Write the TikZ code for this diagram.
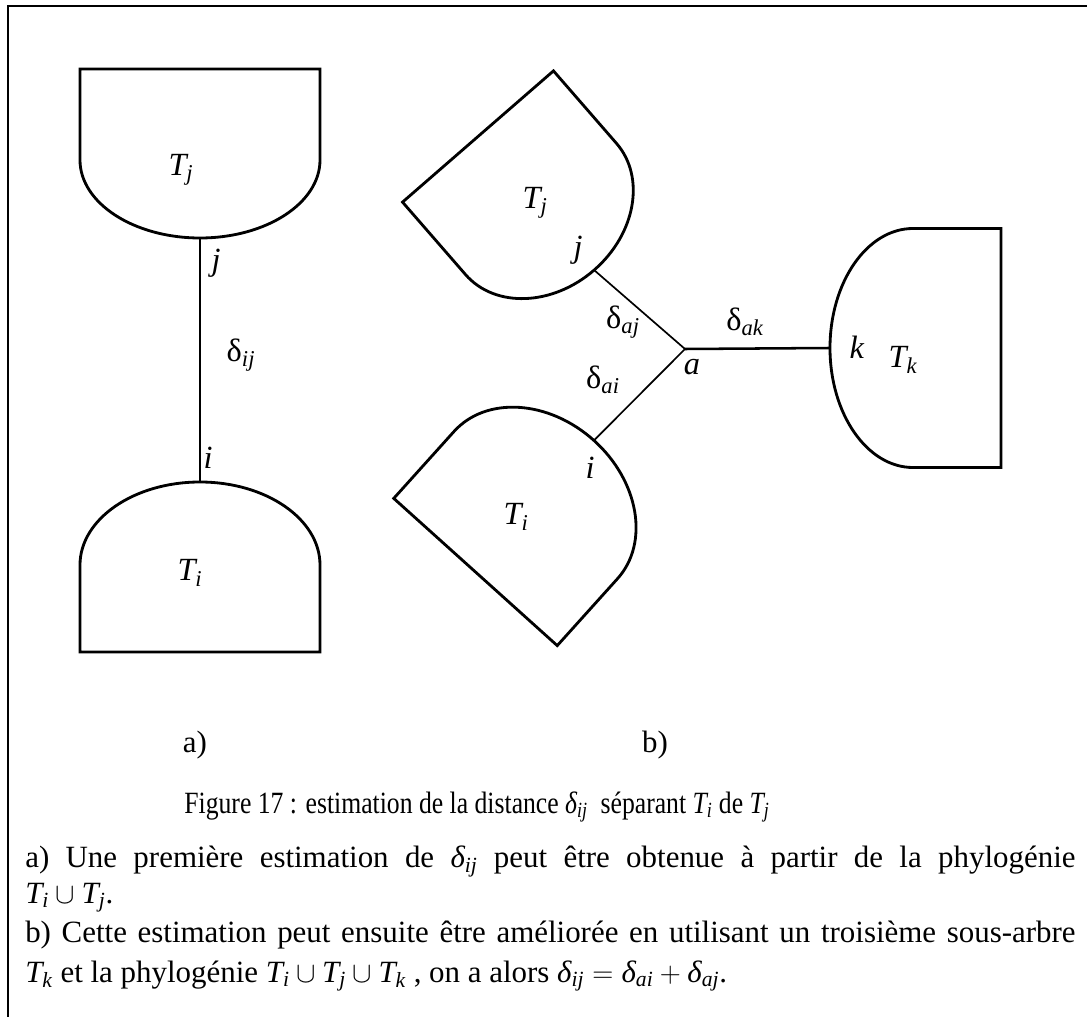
\documentclass[tikz,border=0pt]{standalone}
\usepackage{amsmath}
\usepackage{fontspec}
\setmainfont{Liberation Serif}
\newfontfamily\serre[FakeStretch=0.83]{Liberation Serif}
\usetikzlibrary{positioning,calc}
\newcommand{\mv}[1]{\textit{#1}}
\tikzset{phylopanel/.style={
  x=0.025cm, y=-0.025cm,
  font=\fontsize{23}{28}\selectfont,
  contour/.style={line width=2pt, line join=miter},
  branch/.style={line width=1.2pt},
  lab/.style={inner sep=0pt},
  cadre/.style={line width=2pt},
  souslab/.style={inner sep=0pt, font=\fontsize{22}{25.3}\selectfont},
  titrelab/.style={inner sep=0pt, font=\serre\fontsize{22}{25.3}\selectfont},
  legende/.style={inner sep=0pt, text width=26.25cm, align=justify, anchor=north west},
},
pics/subarbre/.style n args={3}{code={
  \draw[contour] (-#1,0) -- (#1,0) -- (#1,#2)
    .. controls (#1,#2+0.552*#3) and (0.552*#1,#2+#3) .. (0,#2+#3)
    .. controls (-0.552*#1,#2+#3) and (-#1,#2+0.552*#3) .. (-#1,#2) -- cycle;
  \coordinate (-apex) at (0,#2+#3);
}}}

\begin{document}
\begin{tikzpicture}[phylopanel]
\useasboundingbox (0,0) rectangle (1087,1017);
\draw[cadre] (8,1017) -- (8,6) -- (1087,6);

% =====================================================================
%  (a)  two subtrees joined by one branch
% =====================================================================
\pic (Tja) at (200,69) {subarbre={120}{91}{78}};
\pic[rotate=180] (Tia) at (200,652) {subarbre={120}{87}{83}};
\draw[branch] (Tja-apex) -- (Tia-apex);

\node[lab] (labTja) at (181,170) {$\mv{T}_{\mv{j}}$};
\node[lab] (labja) at (216,263) {\mv{j}};
\node[lab] (labdij) at (241,355) {$\text{δ}_{\mv{ij}}$};
\node[lab] (labia) at (208,458) {\mv{i}};
\node[lab] (labTia) at (190,573) {$\mv{T}_{\mv{i}}$};
\node[souslab] (capa) at (195,745) {a)};

% =====================================================================
%  (b)  third subtree T_k, inner node a
% =====================================================================
\pic[rotate=41] (Tjb) at (478,136.5) {subarbre={100}{96}{81}};
\pic[rotate=138] (Tib) at (475.5,572) {subarbre={110}{90}{87}};
\pic[rotate=-90] (Tkb) at (1001,348) {subarbre={119.5}{88}{83}};
\coordinate (a) at (685,349);
\draw[branch] (Tjb-apex) -- (a);
\draw[branch] (Tib-apex) -- (a);
\draw[branch, line width=1.8pt] (a) -- (Tkb-apex);

\node[lab] (labTjb) at (535,203) {$\mv{T}_{\mv{j}}$};
\node[lab] (labjb) at (578,250) {\mv{j}};
\node[lab] (labdaj) at (623,322) {$\text{δ}_{\mv{aj}}$};
\node[lab] (labdak) at (745,322) {$\text{δ}_{\mv{ak}}$};
\node[lab] (laba) at (692,367) {\mv{a}};
\node[lab] (labdai) at (603,380) {$\text{δ}_{\mv{ai}}$};
\node[lab] (labib) at (590,468) {\mv{i}};
\node[lab] (labTib) at (516,517) {$\mv{T}_{\mv{i}}$};
\node[lab] (labkb) at (857,347) {\mv{k}};
\node[lab] (labTkb) at (903,360) {$\mv{T}_{\mv{k}}$};
\node[souslab] (capb) at (655,745) {b)};

% caption
\node[titrelab] (titre) at (477,807) {Figure 17 : estimation de la distance $\mv{δ}_{\mv{ij}}$\ \ séparant $\mv{T}_{\mv{i}}$ de $\mv{T}_{\mv{j}}$};
\node[legende] (texte) at (25,846) {\fontsize{22}{25.3}\selectfont\parindent=0pt
a) Une première estimation de $\mv{δ}_{\mv{ij}}$ peut être obtenue à partir de la phylogénie\linebreak
$\mv{T}_{\mv{i}} \cup \mv{T}_{\mv{j}}$.\par
b) Cette estimation peut ensuite être améliorée en utilisant un troisième sous-arbre\linebreak
$\mv{T}_{\mv{k}}$ et la phylogénie $\mv{T}_{\mv{i}} \cup \mv{T}_{\mv{j}} \cup \mv{T}_{\mv{k}}$ , on a alors $\mv{δ}_{\mv{ij}} = \mv{δ}_{\mv{ai}} + \mv{δ}_{\mv{aj}}$.};
\end{tikzpicture}
\end{document}
